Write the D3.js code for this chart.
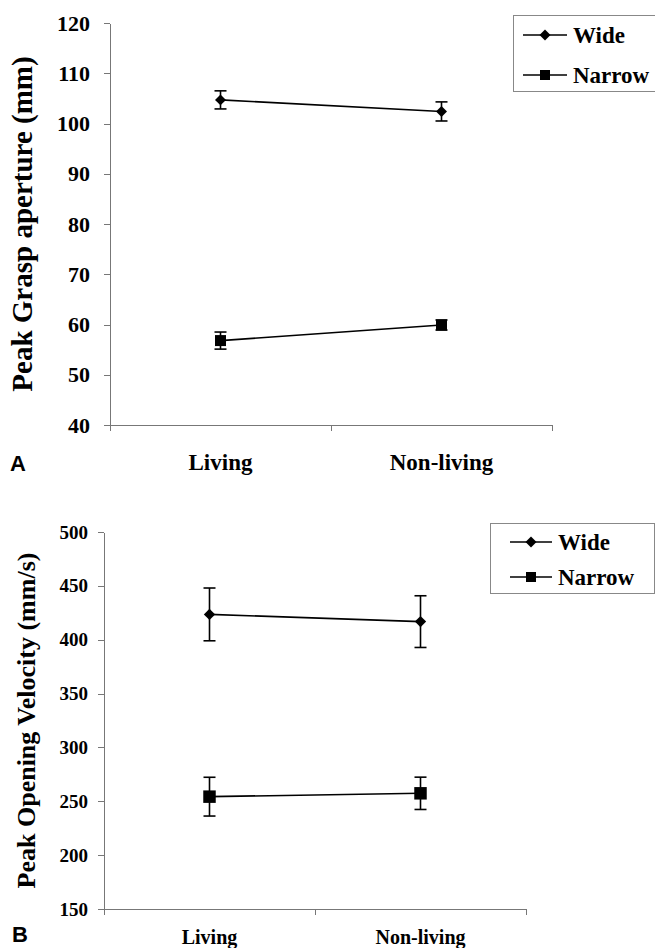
<!DOCTYPE html>
<html>
<head>
<meta charset="utf-8">
<script src="https://cdn.jsdelivr.net/npm/d3@7"></script>
<style>
  body { margin: 0; background: #fff; }
  svg text {
    font-family: "Liberation Serif", "Times New Roman", serif;
    font-weight: bold;
    fill: #000;
  }
  .axis path, .axis line, .x-axis line { stroke: #777; stroke-width: 1; shape-rendering: crispEdges; }
  .series-line { fill: none; stroke: #000; stroke-width: 1.6; }
  .err line { stroke: #000; stroke-width: 1.6; }
  .legend rect { fill: #fff; stroke: #888; stroke-width: 1; shape-rendering: crispEdges; }
  .legend line { stroke: #000; stroke-width: 1.6; }
</style>
</head>
<body>
<div id="chart"></div>
<script>
var SERIF = '"Liberation Serif", "Times New Roman", serif';
var SANS = '"Liberation Sans", Arial, sans-serif';

// Categories and series
var categories = ["Living", "Non-living"];
var seriesNames = ["Wide", "Narrow"];

// Panel A: peak grasp aperture (mm)
var graspWide = [104.7, 102.4];
var graspWideErr = [1.8, 1.9];
var graspNarrow = [56.8, 59.9];
var graspNarrowErr = [1.7, 1.0];
var graspTicks = [40, 50, 60, 70, 80, 90, 100, 110, 120];

// Panel B: peak opening velocity (mm/s)
var velocityWide = [423.5, 416.8];
var velocityWideErr = [24.5, 24];
var velocityNarrow = [254.3, 257.4];
var velocityNarrowErr = [18, 15];
var velocityTicks = [150, 200, 250, 300, 350, 400, 450, 500];

var makeTranslate = (x, y) => `translate(${x},${y})`;

var toSeries = function(values, errors) {
  return categories.map((c, i) => ({ category: c, value: values[i], err: errors[i] }));
};

// diamonds are squares turned by 45 degrees
var markerPath = function(size) {
  return d3.symbol().type(d3.symbolSquare).size(size)();
};

var render = function() {
  var svg = d3.select("#chart")
    .append("svg")
    .attr("width", 655)
    .attr("height", 948);

  renderPanel(svg, {
    letter: "A",
    letterPos: [10, 471],
    left: 110, right: 552, top: 23, bottom: 425,
    ticks: graspTicks,
    tickFont: 22,
    tickPadding: 14,
    label: "Peak Grasp aperture (mm)",
    labelFont: 29,
    labelX: 32,
    catFont: 23,
    catOffset: 45,
    data: [
      { name: seriesNames[0], shape: "diamond", values: toSeries(graspWide, graspWideErr) },
      { name: seriesNames[1], shape: "square", values: toSeries(graspNarrow, graspNarrowErr) }
    ],
    diamondSize: 60, squareSize: 121,
    legend: { x: 513, y: 15, w: 150, h: 76, lineX: [523, 567], textX: 573, rows: [35, 75], font: 23 }
  });

  renderPanel(svg, {
    letter: "B",
    letterPos: [12, 942],
    left: 104, right: 526, top: 532, bottom: 909,
    ticks: velocityTicks,
    tickFont: 19,
    tickPadding: 10,
    label: "Peak Opening Velocity (mm/s)",
    labelFont: 26,
    labelX: 35,
    catFont: 20,
    catOffset: 35,
    data: [
      { name: seriesNames[0], shape: "diamond", values: toSeries(velocityWide, velocityWideErr) },
      { name: seriesNames[1], shape: "square", values: toSeries(velocityNarrow, velocityNarrowErr) }
    ],
    diamondSize: 64, squareSize: 156,
    legend: { x: 490, y: 523, w: 164, h: 70, lineX: [510, 552], textX: 558, rows: [542, 577], font: 23 }
  });
};

var renderPanel = function(svg, config) {
  var chartWidth = config.right - config.left;
  var chartHeight = config.bottom - config.top;

  var xScale = d3.scaleBand()
    .domain(categories)
    .range([0, chartWidth]);

  var yScale = d3.scaleLinear()
    .domain(d3.extent(config.ticks))
    .range([chartHeight, 0]);

  var chartElement = svg.append("g")
    .attr("transform", makeTranslate(config.left, config.top));

  // y axis
  var yAxis = d3.axisLeft(yScale)
    .tickValues(config.ticks)
    .tickSize(6)
    .tickSizeOuter(0)
    .tickPadding(config.tickPadding);

  chartElement.append("g")
    .attr("class", "axis y")
    .call(yAxis)
    .attr("font-family", null)
    .attr("font-size", null)
    .call(g => g.selectAll("text")
      .style("font-family", SERIF)
      .style("font-weight", "bold")
      .style("font-size", config.tickFont + "px"));

  // x axis with ticks at the category boundaries
  var edges = categories.map(c => xScale(c)).concat([chartWidth]);
  var xAxis = chartElement.append("g")
    .attr("class", "x-axis")
    .attr("transform", makeTranslate(0, chartHeight));
  xAxis.append("line").attr("x1", 0).attr("x2", chartWidth);
  xAxis.selectAll("line.tick")
    .data(edges)
    .enter()
    .append("line")
    .attr("class", "tick")
    .attr("x1", d => d).attr("x2", d => d)
    .attr("y1", 0).attr("y2", 6);
  xAxis.selectAll("text")
    .data(categories)
    .enter()
    .append("text")
    .attr("x", d => xScale(d) + xScale.bandwidth() / 2)
    .attr("y", config.catOffset)
    .attr("text-anchor", "middle")
    .style("font-family", SERIF)
    .style("font-size", config.catFont + "px")
    .text(d => d);

  // y label
  svg.append("text")
    .attr("transform", "rotate(-90)")
    .attr("x", -(config.top + chartHeight / 2))
    .attr("y", config.labelX)
    .attr("text-anchor", "middle")
    .style("font-family", SERIF)
    .style("font-size", config.labelFont + "px")
    .text(config.label);

  var cx = d => xScale(d.category) + xScale.bandwidth() / 2;

  var line = d3.line()
    .x(cx)
    .y(d => yScale(d.value));

  config.data.forEach(function(series) {
    chartElement.append("path")
      .attr("class", "series-line")
      .attr("d", line(series.values));

    var err = chartElement.append("g")
      .attr("class", "err")
      .selectAll("g")
      .data(series.values)
      .enter()
      .append("g");
    err.append("line")
      .attr("x1", cx).attr("x2", cx)
      .attr("y1", d => yScale(d.value + d.err))
      .attr("y2", d => yScale(d.value - d.err));
    [1, -1].forEach(function(sign) {
      err.append("line")
        .attr("x1", d => cx(d) - 6).attr("x2", d => cx(d) + 6)
        .attr("y1", d => yScale(d.value + sign * d.err))
        .attr("y2", d => yScale(d.value + sign * d.err));
    });

    var size = series.shape == "diamond" ? config.diamondSize : config.squareSize;
    chartElement.append("g")
      .selectAll("path")
      .data(series.values)
      .enter()
      .append("path")
      .attr("d", markerPath(size))
      .attr("fill", "#000")
      .attr("transform", d => makeTranslate(cx(d), yScale(d.value)) + (series.shape == "diamond" ? " rotate(45)" : ""));
  });

  // legend
  var lg = config.legend;
  var legend = svg.append("g").attr("class", "legend");
  legend.append("rect")
    .attr("x", lg.x + 0.5).attr("y", lg.y + 0.5)
    .attr("width", lg.w).attr("height", lg.h);

  config.data.forEach(function(series, i) {
    var y = lg.rows[i];
    legend.append("line")
      .attr("x1", lg.lineX[0]).attr("x2", lg.lineX[1])
      .attr("y1", y).attr("y2", y);
    var size = series.shape == "diamond" ? 60 : 100;
    legend.append("path")
      .attr("d", markerPath(size))
      .attr("fill", "#000")
      .attr("transform", makeTranslate((lg.lineX[0] + lg.lineX[1]) / 2, y) + (series.shape == "diamond" ? " rotate(45)" : ""));
    legend.append("text")
      .attr("x", lg.textX)
      .attr("y", y)
      .attr("dy", "0.35em")
      .style("font-family", SERIF)
      .style("font-size", lg.font + "px")
      .text(series.name);
  });

  svg.append("text")
    .attr("x", config.letterPos[0])
    .attr("y", config.letterPos[1])
    .style("font-family", SANS)
    .style("font-size", "22px")
    .text(config.letter);
};

window.onload = render;
</script>
</body>
</html>
